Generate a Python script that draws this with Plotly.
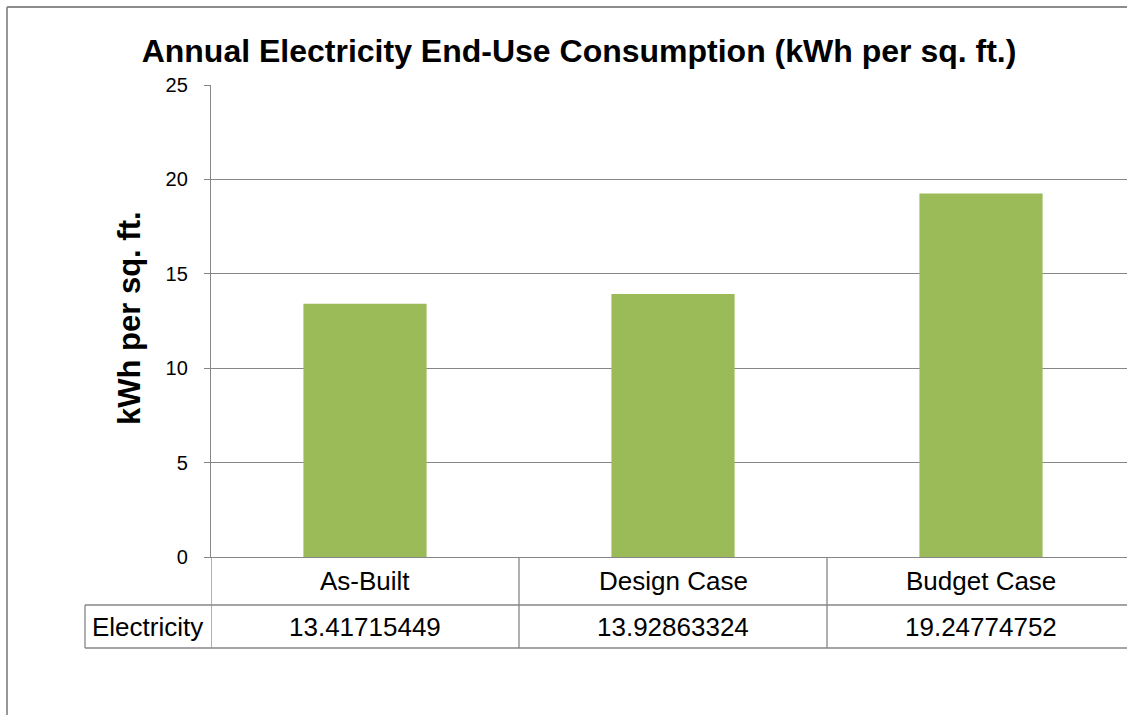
import plotly.graph_objects as go

categories = ["As-Built", "Design Case", "Budget Case"]
electricity = [13.41715449, 13.92863324, 19.24774752]
series_name = "Electricity"
y_ticks = [0, 5, 10, 15, 20, 25]

W, H = 1127, 715
FONT = "Liberation Sans, Arial, sans-serif"
GRID = "#868686"

def px_x(p):
    return p / W

def px_y(p):
    return 1 - p / H

x_left = 211
cat_w = 308
x_pos = list(range(len(categories)))
x_range = [-0.5, -0.5 + (W - x_left) / cat_w]

fig = go.Figure()
fig.add_trace(go.Bar(
    x=x_pos, y=electricity, width=0.4,
    marker=dict(color="#9BBB59", line=dict(width=0)),
    name=series_name, showlegend=False, hoverinfo="y",
))

y0_px, y25_px = 557, 85
row1_bot, row2_bot = 605, 648

fig.update_layout(
    width=W, height=H, autosize=False,
    margin=dict(l=0, r=0, t=0, b=0, pad=0, autoexpand=False),
    paper_bgcolor="white", plot_bgcolor="white",
    font=dict(family=FONT, color="black"),
    showlegend=False,
    title=dict(
        text="<b>Annual Electricity End-Use Consumption (kWh per sq. ft.)</b>",
        x=px_x(579), xanchor="center", y=px_y(51), yanchor="middle",
        font=dict(size=32, family=FONT, color="black"),
    ),
    xaxis=dict(
        domain=[px_x(x_left), 1], range=x_range, automargin=False,
        showticklabels=False, showgrid=False, zeroline=False,
        showline=True, linecolor=GRID, linewidth=1.3, ticks="",
        fixedrange=True,
    ),
    yaxis=dict(
        domain=[px_y(y0_px), px_y(y25_px)], range=[0, 25], automargin=False,
        tickvals=y_ticks, ticks="outside", ticklen=6, tickcolor=GRID, tickwidth=1.3,
        showgrid=True, gridcolor=GRID, gridwidth=1.3, zeroline=False,
        showline=True, linecolor=GRID, linewidth=1.3,
        tickfont=dict(size=20, family=FONT, color="black"),
        ticklabelstandoff=12,
        fixedrange=True,
    ),
)

# y-axis title
fig.add_annotation(
    text="<b>kWh per sq. ft.</b>", textangle=-90,
    xref="paper", yref="paper", x=px_x(129), y=px_y(318),
    xanchor="center", yanchor="middle", showarrow=False,
    font=dict(size=31, family=FONT, color="black"),
)

# data table
line = dict(color=GRID, width=1.3)
for yy in (row1_bot, row2_bot):
    fig.add_shape(type="line", xref="paper", yref="paper",
                  x0=px_x(85), x1=1, y0=px_y(yy), y1=px_y(yy), line=line)
fig.add_shape(type="line", xref="paper", yref="paper",
              x0=px_x(85), x1=px_x(85), y0=px_y(row1_bot), y1=px_y(row2_bot), line=line)
for b in [x - 0.5 for x in x_pos]:
    fig.add_shape(type="line", xref="x", yref="paper",
                  x0=b, x1=b, y0=px_y(y0_px), y1=px_y(row2_bot), line=line)

for xi, cat, v in zip(x_pos, categories, electricity):
    fig.add_annotation(text=cat, xref="x", yref="paper", x=xi, y=px_y(581),
                       xanchor="center", yanchor="middle", showarrow=False,
                       font=dict(size=26, family=FONT, color="black"))
    fig.add_annotation(text=f"{v:.8f}", xref="x", yref="paper", x=xi, y=px_y(627),
                       xanchor="center", yanchor="middle", showarrow=False,
                       font=dict(size=26, family=FONT, color="black"))

fig.add_annotation(text=series_name, xref="paper", yref="paper", x=px_x(147), y=px_y(627),
                   xanchor="center", yanchor="middle", showarrow=False,
                   font=dict(size=26, family=FONT, color="black"))

# outer chart frame (top and left edges visible)
frame = dict(color="#8C8C8C", width=1.8)
fig.add_shape(type="line", xref="paper", yref="paper",
              x0=px_x(7), x1=1, y0=px_y(7), y1=px_y(7), line=frame)
fig.add_shape(type="line", xref="paper", yref="paper",
              x0=px_x(7), x1=px_x(7), y0=px_y(7), y1=0, line=frame)

post = (
    "document.documentElement.style.margin='0';"
    "document.documentElement.style.overflow='hidden';"
    "document.body.style.margin='0';"
    "document.body.style.overflow='hidden';"
    "var gd=document.getElementById('{plot_id}');"
    "gd.style.position='fixed';gd.style.top='0px';gd.style.left='0px';"
)

fig.write_html("out.html", config={"displayModeBar": False}, post_script=post)
